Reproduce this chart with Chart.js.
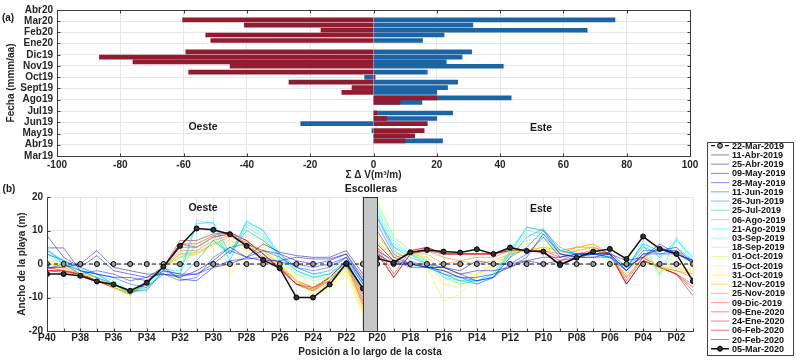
<!DOCTYPE html>
<html>
<head>
<meta charset="utf-8">
<script src="https://cdn.jsdelivr.net/npm/chart.js@4.4.0/dist/chart.umd.min.js"></script>
<style>
  html, body { margin: 0; padding: 0; background: #fff; }
  #wrap { position: relative; width: 796px; height: 360px; overflow: hidden; }
  #c1 { position: absolute; left: 0; top: 0; }
  #c2 { position: absolute; left: 0; top: 130px; }
</style>
</head>
<body>
<div id="wrap">
  <canvas id="c2" width="796" height="230"></canvas>
  <canvas id="c1" width="796" height="180"></canvas>
</div>
<script>
// fechas de levantamiento (la primera es la referencia)
const fechas = ['2019-03-22','2019-04-11','2019-04-25','2019-05-09','2019-05-28','2019-06-11','2019-06-26',
  '2019-07-25','2019-08-06','2019-08-21','2019-09-03','2019-09-18','2019-10-01','2019-10-15','2019-10-31',
  '2019-11-12','2019-11-25','2019-12-09','2020-01-09','2020-01-24','2020-02-06','2020-02-20','2020-03-05'];
const etiquetas = ['22-Mar-2019','11-Abr-2019','25-Abr-2019','09-May-2019','28-May-2019','11-Jun-2019','26-Jun-2019',
  '25-Jul-2019','06-Ago-2019','21-Ago-2019','03-Sep-2019','18-Sep-2019','01-Oct-2019','15-Oct-2019','31-Oct-2019',
  '12-Nov-2019','25-Nov-2019','09-Dic-2019','09-Ene-2020','24-Ene-2020','06-Feb-2020','20-Feb-2020','05-Mar-2020'];

// (a) sum of volume change, from 11-Abr-2019 on
const volOeste = [10, 13, 16, 17, 4.2, 1, 8.4, 20, -10, -6.8, -26.7, 0.5, -58.4, -45.3, -76, -86.6, -59.3, -51.4, -53, -16.6, -40.8, -60.3];
const volEste  = [21.8, 11, -0.5, -23, 20, 25, 15.3, 43.5, 20, 23.4, 26.6, -2.8, 17, 41, 23, 28, 31, 15.5, 22.3, 67.5, 31.4, 76.3];

const meses = ['2019-03-01','2019-04-01','2019-05-01','2019-06-01','2019-07-01','2019-08-01','2019-09-01',
  '2019-10-01','2019-11-01','2019-12-01','2020-01-01','2020-02-01','2020-03-01','2020-04-01'];
const mesesEtiq = ['Mar19','Abr19','May19','Jun19','Jul19','Ago19','Sept19','Oct19','Nov19','Dic19','Ene20','Feb20','Mar20','Abr20'];

// (b) ancho de playa por perfil, P40 ... P01
const perfiles = ['P40','P39','P38','P37','P36','P35','P34','P33','P32','P31','P30','P29','P28','P27','P26','P25','P24','P23','P22','P21',
  'P20','P19','P18','P17','P16','P15','P14','P13','P12','P11','P10','P09','P08','P07','P06','P05','P04','P03','P02','P01'];
const huecoEscolleras = 0.85; // separacion P21-P20 en unidades de perfil

const a190322 = [0,0,0,0,0,0,0,0,0,0,0,0,0,0,0,0,0,0,0,0, 0,0,0,0,0,0,0,0,0,0,0,0,0,0,0,0,0,0,0,0];
const a190411 = [-1,-1,0,4,-1,-2,-3,-3,-4,-2,1,5,2,6,3.5,2.5,2,2,4,-3, 3,0,0,-1,-1,-2,1,0,0,1,0,1,2,2,3,1,2,6,3,1];
const a190425 = [8.5,2,-1,2.5,-2,-3,-4,-1,-4.5,-5,-1,0,2,1,1,2,1.5,1.5,3,-4, 4,1,0,0,-1,-3,-2,-2,-1,1,2,2,3,3,3.5,-1,2,5,3,0.5];
const a190509 = [4.8,4.8,-2,-3,-4,-4,-5,-2,-3,-3,0,4,2,4,3,1,0,1,3,-5, 6,1,-1,-1,-2,-4,-4,-3,-1,2,9,3,2,3,3,-2,3,4,4,0];
const a190528 = [-1.5,0,-3,-2,-3,-5,-4,-3,-3.5,-3,-1,1,1.5,2,0.5,0,-1,0,2,-6, 10,2,0,-1,-1,-3,-5,-4,0,3,8,2,3,3,3,-2,3,3,3,1];
const a190611 = [3,1,-1,-3,-4,-6,-7,-3,-5,-4,2,5,6,4,2,-1,-2,-1,2,-5, 12,3,0,-1,-3,-4,-5,-4,2,5,10,3,2,2,2,-2,4,4,5,0];
const a190626 = [4.5,0,-2,-4,-6,-8,-8,-2,-4,1,7,3,10,7,3,-1,-3,-2,2,-5, 14,4,1,-1,-2,-4,-6,-4,2,8,10.5,4,3,3,2,-1,5,3,4,1];
const a190725 = [4,1,-2,-3,-6,-8.5,-7.5,-2,-3,12,12.5,3,12.5,10,3,-2,-4,-3,1,-6, 14,5,2,0,-3,-5,-6,-4,3,11,10,5,3,3,2,-1,6,4,5,1];
const a190806 = [3,0,-2,-4,-6,-8,-7,-1.5,-2,13,12,1,13,10,2,-1,-3,-3,1,-6, 15,5,3,0,-3,-5,-5,-4,4,11,10,4,3,3,2,-2,7,2,7,2];
const a190821 = [4,1,-1,-3,-5,-8,-6,-1,-3,7,10,1,12,9,2,-2,-4,-3,0,-7, 16,6,3,0,-4,-5,-5,-3,4,10,9,4,3,3,2,-1,6,2,7,2];
const a190903 = [3,1,-2,-3,-6,-9,-6,-1,2,5,8,3,11,8,2,-2,-4,-4,-1,-8, 17,7,3,1,-4,-6,-5,-3,3,9,8,4,3,3,2,-1,6,-3,8,1];
const a190918 = [2,0,-2,-3,-6,-9,-7,-1,2,4,7,4,11,8,1,-3,-5,-4,-1,-8, 19,8,4,1,-4,-6,-5,-3,3,7,8,3,2,3,2,-2,6,-4,8,0];
const a191001 = [1,0,-2,-3,-6,-9,-6,-1,2,3,6,4,9,7,1,-3,-6,-5,-2,-10, 18,8,4,1,-4,-5,-4,-2,3,6,7,3,2,3,2,-2,4,-3,4,-1];
const a191015 = [0,0,-3,-4,-7,-9,-5,-1,1,3,5,-3.5,5,5,0,-5,-9,-8,-3,-15, 6,3,3,-1,-11,-9,-3,-1,3,4,6,3,4,5,2,-2,3,-2,0,-2];
const a191031 = [0,-1,-3,-4,-7,-9.5,-5,-1,2,3,6,6,4,4,0,-5,-8,-7,-2,-14, 8,3,3,1,-6,-7,-3,-1,3,4,5,3,4,5,2,-3,3,-2,-1,-2];
const a191112 = [0,-1,-3,-4,-7,-9,-5,-1,3,3,6,7,5,4,0,-5,-8,-6,-1,-13, 9,2,3,2,-2,-3,-3,0,3,4,5,4,5,6,2,-3,3,-1,-1,-3];
const a191125 = [-1,-1,-3,-4,-7,-9,-5,-1,3,3.5,6,8,6,4,-0.5,-5,-7,-5,0,-12, 7,2,3,3,0,1,0,1,3,4,5,4,5,6,3,-4,2,-1,-2,-3];
const a191209 = [-1,-2,-3,-5,-7,-9,-5,-1,4,4,7,8.5,6.5,3,-1,-5,-7,-5,0,-12, 6,1,3,4,2,1,2,2,4,4,4,3,5,5,3,-4,2,-1,-2,-4];
const a200109 = [-1,-2,-3,-5,-7,-9,-6,-1,5,5,8,9,7,3,-1,-6,-8,-5,0,-11, 5,0,4,5,3,3,3,3,4.5,4,4,2,4,5,3,-5,2,-1,-3,-6];
const a200124 = [-2,-2,-3,-5,-7,-9,-6,-1,6,6,8.5,9.5,7,3,-1.5,-6,-8,-4,0.5,-10, 5,-3,4,5,3,3,3,3,4.5,4,3.5,1,3,4,3,-6,1,-1,-3,-7];
const a200206 = [-2,-2,-3,-5,-7,-9,-6,-1,7,7,9,9.5,7,3,-1.5,-6,-7.5,-4,1,-9, 4,-4,3,5,3,3,3,3,4,4,3.5,0,2,4,3,-6,1,-1,-3,-8];
const a200220 = [-2,-2.5,-3,-5,-6,-8.5,-6,-1,6,5,8,9,6,2,-1,-6,-7,-4,1,-8, 3,-4,3,4,3,3,3,3,4,4,3.5,0,2,3,3,-6,1,-1,-3,-9.5];
const a200305 = [-3,-3,-3.5,-5.2,-6.1,-8,-5.6,-0.8,5.4,10.6,10.2,8.9,5.4,1.2,-1.3,-10,-10,-6.1,0.2,-7.3,
  1.7,0.4,3.5,4.2,3.7,3.4,4.4,3.0,4.9,3.9,3.7,-0.3,1.9,3.7,4.5,1.5,8.2,4.5,3.0,-5.1];

const anchoPlaya = [a190322, a190411, a190425, a190509, a190528, a190611, a190626, a190725, a190806, a190821,
  a190903, a190918, a191001, a191015, a191031, a191112, a191125, a191209, a200109, a200124, a200206, a200220, a200305];

// jet colours for the 21 intermediate surveys
const colores = ['0,0,128','0,0,179','0,0,230','0,26,255','0,77,255','0,128,255','0,179,255','0,230,255',
  '26,255,230','77,255,179','128,255,128','179,255,77','230,255,26','255,230,0','255,179,0','255,128,0',
  '255,77,0','255,26,0','230,0,0','179,0,0','128,0,0'];

Chart.defaults.font.family = '"Liberation Sans", Arial, sans-serif';
Chart.defaults.font.weight = 'bold';
Chart.defaults.font.size = 10;
Chart.defaults.color = '#262626';

const d0 = Date.parse('2019-03-01');
const dia = s => (Date.parse(s) - d0) / 864e5;
const posPerfil = perfiles.map((p, i) => i < 20 ? i : i - 1 + huecoEscolleras);

const rejilla = '#e6e6e6';

// box + inward tick marks (matlab style)
const marco = lados => ({
  id: 'marco',
  afterDraw(chart) {
    const a = chart.chartArea, ctx = chart.ctx;
    const L = Math.round(a.left) + 0.5, R = Math.round(a.right) + 0.5;
    const T = Math.round(a.top) + 0.5, B = Math.round(a.bottom) + 0.5;
    ctx.save();
    ctx.strokeStyle = '#3a3a3a';
    ctx.lineWidth = 1;
    ctx.beginPath();
    ctx.moveTo(L, T); ctx.lineTo(L, B); ctx.lineTo(R, B);
    if (lados === 4) { ctx.lineTo(R, T); ctx.lineTo(L, T); }
    chart.scales.x.ticks.forEach(t => {
      const x = Math.round(chart.scales.x.getPixelForValue(t.value)) + 0.5;
      ctx.moveTo(x, B); ctx.lineTo(x, B - 3);
      if (lados === 4) { ctx.moveTo(x, T); ctx.lineTo(x, T + 3); }
    });
    chart.scales.y.ticks.forEach(t => {
      const y = Math.round(chart.scales.y.getPixelForValue(t.value)) + 0.5;
      ctx.moveTo(L, y); ctx.lineTo(L + 3, y);
      if (lados === 4) { ctx.moveTo(R, y); ctx.lineTo(R - 3, y); }
    });
    ctx.stroke();
    ctx.restore();
  }
});

const textos = lista => ({
  id: 'textos',
  afterDraw(chart) {
    const ctx = chart.ctx;
    ctx.save();
    ctx.fillStyle = '#1a1a1a';
    ctx.textAlign = 'center';
    ctx.textBaseline = 'middle';
    lista.forEach(t => {
      ctx.font = 'bold ' + t.s + 'px "Liberation Sans", Arial, sans-serif';
      ctx.fillText(t.t, t.x, t.y);
    });
    ctx.restore();
  }
});

// ---------- (a) ----------
const bares = fechas.slice(1);
new Chart(document.getElementById('c1'), {
  type: 'bar',
  data: {
    datasets: [{
      label: 'Oeste',
      data: bares.map((f, i) => ({ x: volOeste[i], y: dia(f) })),
      backgroundColor: '#931b30',
      grouped: false,
      barThickness: 4
    }, {
      label: 'Este',
      data: bares.map((f, i) => ({ x: volEste[i], y: dia(f) })),
      backgroundColor: '#1b65a6',
      grouped: false,
      barThickness: 4
    }]
  },
  options: {
    indexAxis: 'y',
    responsive: false,
    animation: false,
    layout: { padding: { left: 0, right: 106, top: 9, bottom: 0 } },
    plugins: { legend: { display: false }, tooltip: { enabled: false } },
    scales: {
      x: {
        type: 'linear', min: -100, max: 100,
        ticks: { stepSize: 20, padding: 3, maxRotation: 0 },
        grid: { color: rejilla, drawTicks: false },
        border: { display: false },
        title: { display: true, text: 'Σ Δ V(m³/m)', padding: 0, font: { size: 10, lineHeight: 1 } },
        afterFit: s => { s.height = 24; }
      },
      y: {
        type: 'linear', min: 0, max: dia('2020-04-01'),
        offset: false,
        afterBuildTicks: s => { s.ticks = meses.map(m => ({ value: dia(m) })); },
        ticks: { autoSkip: false, padding: 4, callback: (v, i) => mesesEtiq[i] },
        grid: { color: rejilla, drawTicks: false, offset: false },
        border: { display: false },
        title: { display: true, text: 'Fecha (mmm/aa)', padding: { top: 6, bottom: 0 }, font: { size: 10, lineHeight: 1 } },
        afterFit: s => { s.width = 57; }
      }
    }
  },
  plugins: [marco(4), textos([
    { t: '(a)', x: 8, y: 18, s: 10 },
    { t: 'Oeste', x: 203, y: 127, s: 10.5 },
    { t: 'Este', x: 541, y: 128, s: 10.5 }
  ])]
});

// ---------- (b) ----------
const escolleras = {
  id: 'escolleras',
  afterDatasetsDraw(chart) {
    const x = chart.scales.x, a = chart.chartArea, ctx = chart.ctx;
    const x1 = x.getPixelForValue(posPerfil[19]), x2 = x.getPixelForValue(posPerfil[20]);
    ctx.save();
    ctx.fillStyle = '#c6c6c6';
    ctx.fillRect(x1, a.top, x2 - x1, a.bottom - a.top);
    ctx.strokeStyle = '#333';
    ctx.lineWidth = 1;
    ctx.strokeRect(Math.round(x1) + 0.5, a.top + 0.5, Math.round(x2 - x1), a.bottom - a.top);
    ctx.restore();
  }
};

const leyenda = {
  id: 'leyenda',
  afterDraw(chart) {
    const ctx = chart.ctx;
    const bx = 707, by = 12, bw = 86, bh = 213;
    ctx.save();
    ctx.fillStyle = '#fff';
    ctx.fillRect(bx, by, bw, bh);
    ctx.strokeStyle = '#444';
    ctx.lineWidth = 1;
    ctx.strokeRect(bx + 0.5, by + 0.5, bw, bh);
    ctx.font = 'bold 9px "Liberation Sans", Arial, sans-serif';
    ctx.textBaseline = 'middle';
    chart.data.datasets.forEach((ds, i) => {
      const y = by + 3.7 + i * 9.23;
      ctx.strokeStyle = ds.borderColor;
      ctx.lineWidth = ds.borderWidth;
      ctx.setLineDash(ds.borderDash || []);
      ctx.beginPath();
      ctx.moveTo(711, y);
      ctx.lineTo(729, y);
      ctx.stroke();
      ctx.setLineDash([]);
      if (ds.pointRadius > 0) {
        ctx.beginPath();
        ctx.arc(720, y, ds.pointRadius, 0, Math.PI * 2);
        ctx.fillStyle = ds.pointBackgroundColor;
        ctx.fill();
        ctx.lineWidth = 1;
        ctx.strokeStyle = '#000';
        ctx.stroke();
      }
      ctx.fillStyle = '#111';
      ctx.fillText(ds.label, 732, y + 0.5);
    });
    ctx.restore();
  }
};

const series = anchoPlaya.map((vals, k) => {
  const data = vals.map((v, i) => ({ x: posPerfil[i], y: v }));
  if (k === 0) {
    return { label: etiquetas[k], data, borderColor: '#111', borderWidth: 1.2, borderDash: [4, 3],
      pointRadius: 2.5, pointBackgroundColor: '#9a9a9a', pointBorderColor: '#000', pointBorderWidth: 1, order: -1 };
  }
  if (k === anchoPlaya.length - 1) {
    return { label: etiquetas[k], data, borderColor: '#111', borderWidth: 1.5,
      pointRadius: 2.5, pointBackgroundColor: '#333', pointBorderColor: '#000', pointBorderWidth: 1, order: -2 };
  }
  return { label: etiquetas[k], data, borderColor: 'rgba(' + colores[k - 1] + ',0.5)', borderWidth: 1, pointRadius: 0, order: 0 };
});

new Chart(document.getElementById('c2'), {
  type: 'line',
  data: { datasets: series },
  options: {
    responsive: false,
    animation: false,
    layout: { padding: { left: 0, right: 103, top: 67, bottom: 0 } },
    plugins: { legend: { display: false }, tooltip: { enabled: false } },
    elements: { line: { tension: 0 } },
    scales: {
      x: {
        type: 'linear', min: 0, max: posPerfil[posPerfil.length - 1],
        afterBuildTicks: s => { s.ticks = posPerfil.map(p => ({ value: p })); },
        ticks: {
          autoSkip: false, maxRotation: 0, padding: 1,
          callback: (v, i) => (i % 2 === 0 ? perfiles[i] : '')
        },
        grid: { color: rejilla, drawTicks: false },
        border: { display: false },
        title: { display: true, text: 'Posición a lo largo de la costa', padding: { top: 0, bottom: 3 }, font: { size: 10, lineHeight: 1 } },
        afterFit: s => { s.height = 29; }
      },
      y: {
        type: 'linear', min: -20, max: 20,
        ticks: { stepSize: 10, padding: 4 },
        grid: { color: rejilla, drawTicks: false },
        border: { display: false },
        title: { display: true, text: 'Ancho de la playa (m)', padding: { top: 17, bottom: 0 }, font: { size: 10, lineHeight: 1 } },
        afterFit: s => { s.width = 47; }
      }
    }
  },
  plugins: [escolleras, marco(2), leyenda, textos([
    { t: '(b)', x: 9, y: 59, s: 10 },
    { t: 'Escolleras', x: 371, y: 59, s: 10.5 },
    { t: 'Oeste', x: 203, y: 78, s: 10.5 },
    { t: 'Este', x: 541, y: 79, s: 10.5 }
  ])]
});
</script>
</body>
</html>
